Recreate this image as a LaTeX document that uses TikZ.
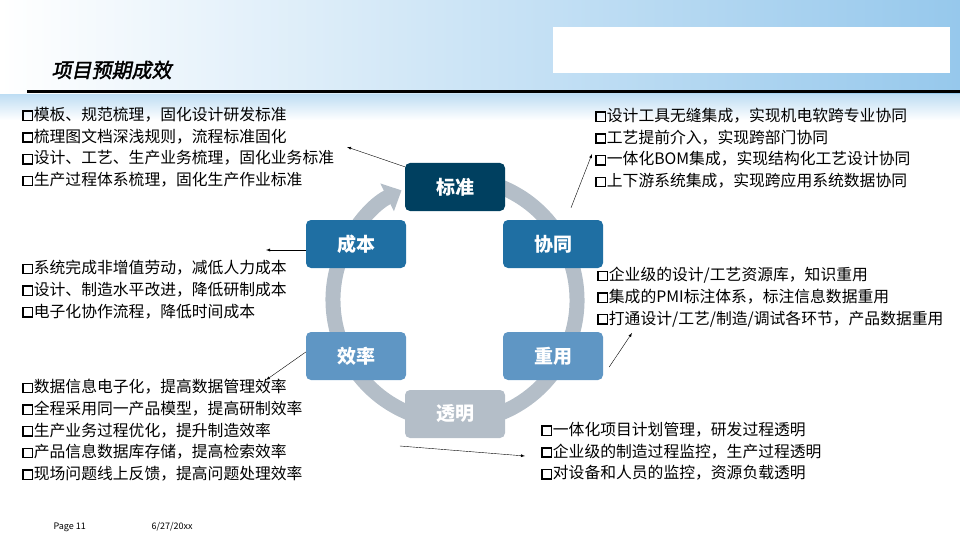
\documentclass[tikz,border=0pt]{standalone}
\usepackage{fontspec}
\setmainfont{Noto Sans CJK SC}
\newfontfamily\titlefont[FakeSlant=0.2,FakeBold=2]{Noto Sans CJK SC}
\usepackage{xcolor}
\usetikzlibrary{positioning,arrows.meta}
\definecolor{standard}{RGB}{0,64,96}
\definecolor{cost}{RGB}{31,111,163}
\definecolor{efficiency}{RGB}{95,150,196}
\definecolor{clear}{RGB}{180,190,200}
\definecolor{sky}{RGB}{150,200,236}
\tikzstyle{goal}=[rounded corners=5pt, minimum width=100pt, minimum height=48pt, text=white, font=\fontsize{19}{19}\selectfont\bfseries, inner sep=0pt]
\tikzset{notes/.style={anchor=north west, align=left, inner sep=0pt, font=\fontsize{15.8}{21.7}\selectfont}}
\tikzset{pointer/.style={-latex, thin, black}}
\newcommand\chk{\raisebox{0.05em}{\setlength\fboxsep{0pt}\setlength\fboxrule{1.4pt}\fbox{\rule{0pt}{0.5em}\hspace{0.5em}}}\hspace{1pt}}
\begin{document}
\begin{tikzpicture}[x=1pt,y=-1pt]
  \useasboundingbox (0,0) rectangle (960,540);
  %% Background
  \shade[left color=white, right color=sky] (0,0) rectangle (960,95);
  \shade[top color=sky!60!white, bottom color=white] (0,95) rectangle (960,120);
  \fill[white] (553,27) rectangle (950,73);
  \draw (48,70) node[anchor=west, font=\titlefont\fontsize{20}{20}\selectfont] (title) {项目预期成效};
  \draw[line width=3pt] (27,92) -- (960,92);

  %% Cycle
  \begin{scope}[shift={(455,300)}, y=1pt]
    \draw[clear, line width=15pt, -{Triangle[length=16pt,width=30pt]}] (70:122) arc (70:-244:122);
  \end{scope}
  \draw (455,187) node[goal, fill=standard] (S) {标准};
  \draw (553,244) node[goal, fill=cost] (C) {协同};
  \draw (553,356) node[goal, fill=efficiency] (R) {重用};
  \draw (455,414) node[goal, fill=clear] (T) {透明};
  \draw (356,356) node[goal, fill=efficiency] (E) {效率};
  \draw (356,244) node[goal, fill=cost] (K) {成本};

  %% Notes
  \draw (22,107) node[notes] (nS) {\chk 模板、规范梳理，固化设计研发标准\\ \chk 梳理图文档深浅规则，流程标准固化\\ \chk 设计、工艺、生产业务梳理，固化业务标准\\ \chk 生产过程体系梳理，固化生产作业标准};
  \draw (595,108) node[notes] (nC) {\chk 设计工具无缝集成，实现机电软跨专业协同\\ \chk 工艺提前介入，实现跨部门协同\\ \chk 一体化BOM集成，实现结构化工艺设计协同\\ \chk 上下游系统集成，实现跨应用系统数据协同};
  \draw (22,260) node[notes] (nK) {\chk 系统完成非增值劳动，减低人力成本\\ \chk 设计、制造水平改进，降低研制成本\\ \chk 电子化协作流程，降低时间成本};
  \draw (597,267) node[notes] (nR) {\chk 企业级的设计/工艺资源库，知识重用\\ \chk 集成的PMI标注体系，标注信息数据重用\\ \chk 打通设计/工艺/制造/调试各环节，产品数据重用};
  \draw (22,379) node[notes] (nE) {\chk 数据信息电子化，提高数据管理效率\\ \chk 全程采用同一产品模型，提高研制效率\\ \chk 生产业务过程优化，提升制造效率\\ \chk 产品信息数据库存储，提高检索效率\\ \chk 现场问题线上反馈，提高问题处理效率};
  \draw (541,422) node[notes] (nT) {\chk 一体化项目计划管理，研发过程透明\\ \chk 企业级的制造过程监控，生产过程透明\\ \chk 对设备和人员的监控，资源负载透明};

  %% Pointers
  \coordinate (pS) at (347,147);
  \coordinate (pC) at (592,154);
  \coordinate (pK) at (266,250);
  \coordinate (pR) at (632,333);
  \coordinate (pE) at (266,380);
  \coordinate (pT) at (525,456);
  \draw[pointer] (S.north west) ++(0,4) coordinate (sS) -- (pS);
  \draw[pointer] (C.north) ++(18,-12) coordinate (sC) -- (pC);
  \draw[pointer] (K.west) ++(0,6) coordinate (sK) -- (pK);
  \draw[pointer] (R.east) ++(6,11) coordinate (sR) -- (pR);
  \draw[pointer] (E.west) ++(0,-4) coordinate (sE) -- (pE);
  \draw[pointer] (T.west) ++(-5,32) coordinate (sT) -- (pT);

  %% Footer
  \draw (50,527) node[anchor=west, font=\fontsize{9}{9}\selectfont] (page) {Page 11};
  \draw (148,527) node[anchor=west, font=\fontsize{9}{9}\selectfont] (date) {6/27/20xx};
\end{tikzpicture}
\end{document}
